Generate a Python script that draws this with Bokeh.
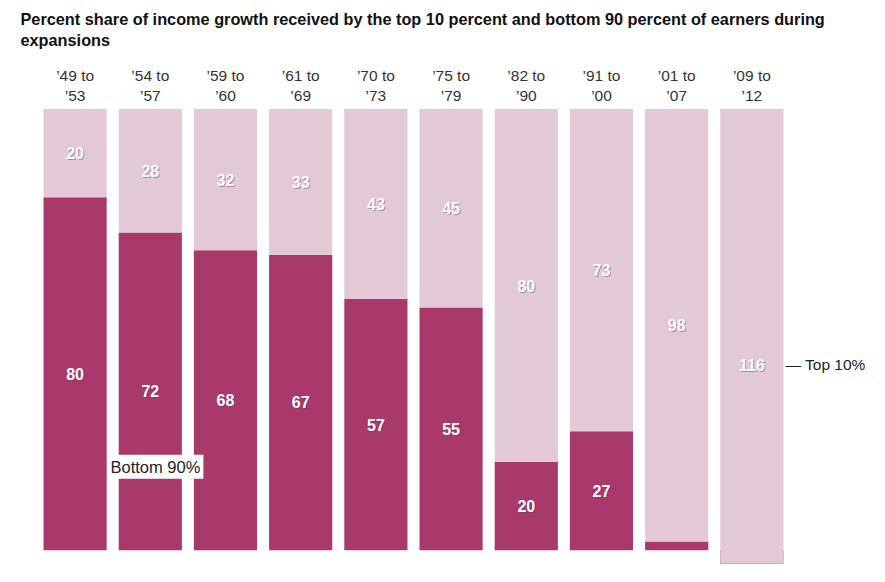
from bokeh.plotting import figure
from bokeh.models import ColumnDataSource, Range1d, Label
from bokeh.core.properties import value
from bokeh.embed import file_html
from bokeh.resources import INLINE

periods = ["’49 to\n’53", "’54 to\n’57", "’59 to\n’60", "’61 to\n’69", "’70 to\n’73",
           "’75 to\n’79", "’82 to\n’90", "’91 to\n’00", "’01 to\n’07", "’09 to\n’12"]
bottom90 = [80, 72, 68, 67, 57, 55, 20, 27, 2, -16]
top10 = [20, 28, 32, 33, 43, 45, 80, 73, 98, 116]

DARK = "#a8396a"
LIGHT = "#e3c9d6"
FONT = "Liberation Sans"

idx = list(range(len(periods)))
bot_src = ColumnDataSource(dict(x=idx, b0=[0] * len(idx), b1=bottom90))
top_src = ColumnDataSource(dict(x=idx, t0=bottom90,
                                t1=[b + t for b, t in zip(bottom90, top10)]))
top_lab = ColumnDataSource(dict(
    x=idx, y=[(b + b + t) / 2 for b, t in zip(bottom90, top10)],
    txt=[str(t) for t in top10]))
bl = [(i, b) for i, b in zip(idx, bottom90) if b >= 10]
bot_lab = ColumnDataSource(dict(x=[i for i, _ in bl], y=[b / 2 for _, b in bl],
                                txt=[str(b) for _, b in bl]))
cat_src = ColumnDataSource(dict(x=idx, y=[105.3] * len(idx), txt=periods))

p = figure(width=885, height=582, x_range=Range1d(-0.992, 10.777),
           y_range=Range1d(-3, 124.6), x_axis_location=None, y_axis_location=None,
           output_backend="svg", toolbar_location=None, min_border=0,
           min_border_bottom=19)
p.outline_line_color = None
p.grid.visible = False
p.background_fill_color = "white"
p.border_fill_color = "white"

# bottom 90% first; the top 10% bar covers any negative share
p.vbar(x="x", bottom="b0", top="b1", width=0.84, source=bot_src,
       fill_color=DARK, line_color=None)
p.vbar(x="x", bottom="t0", top="t1", width=0.84, source=top_src,
       fill_color=LIGHT, line_color=None)

for src in (top_lab, bot_lab):
    p.text(x="x", y="y", text="txt", source=src, text_align="center",
           text_baseline="middle", text_color="#5a3a4a", text_alpha=0.45,
           x_offset=1, y_offset=1,
           text_font=value(FONT), text_font_style="bold", text_font_size="16px")
    p.text(x="x", y="y", text="txt", source=src, text_align="center",
           text_baseline="middle", text_color="white",
           text_font=value(FONT), text_font_style="bold", text_font_size="16px")

p.text(x="x", y="y", text="txt", source=cat_src, text_align="center",
       text_baseline="middle", text_color="#333333", text_font=value(FONT),
       text_font_size="15.5px", text_line_height=1.2)

p.add_layout(Label(x=-0.726, y=120.36,
                   text="Percent share of income growth received by the top 10 percent and bottom 90 percent of earners during",
                   text_font=FONT, text_font_style="bold",
                   text_font_size="16.3px", text_color="#111111", text_baseline="middle"))
p.add_layout(Label(x=-0.726, y=115.6, text="expansions",
                   text_font=FONT, text_font_style="bold",
                   text_font_size="16.3px", text_color="#111111", text_baseline="middle"))

p.add_layout(Label(x=0.431, y=18.9, text="Bottom 90%", text_font=FONT,
                   text_font_size="16.5px", text_color="#222222", text_baseline="middle",
                   background_fill_color="white", padding=3))
p.add_layout(Label(x=9.447, y=(bottom90[-1] + bottom90[-1] + top10[-1]) / 2,
                   text="— Top 10%", text_font=FONT,
                   text_font_size="15.5px", text_color="#222222", text_baseline="middle"))

open("out.html", "w").write(file_html(p, INLINE))
